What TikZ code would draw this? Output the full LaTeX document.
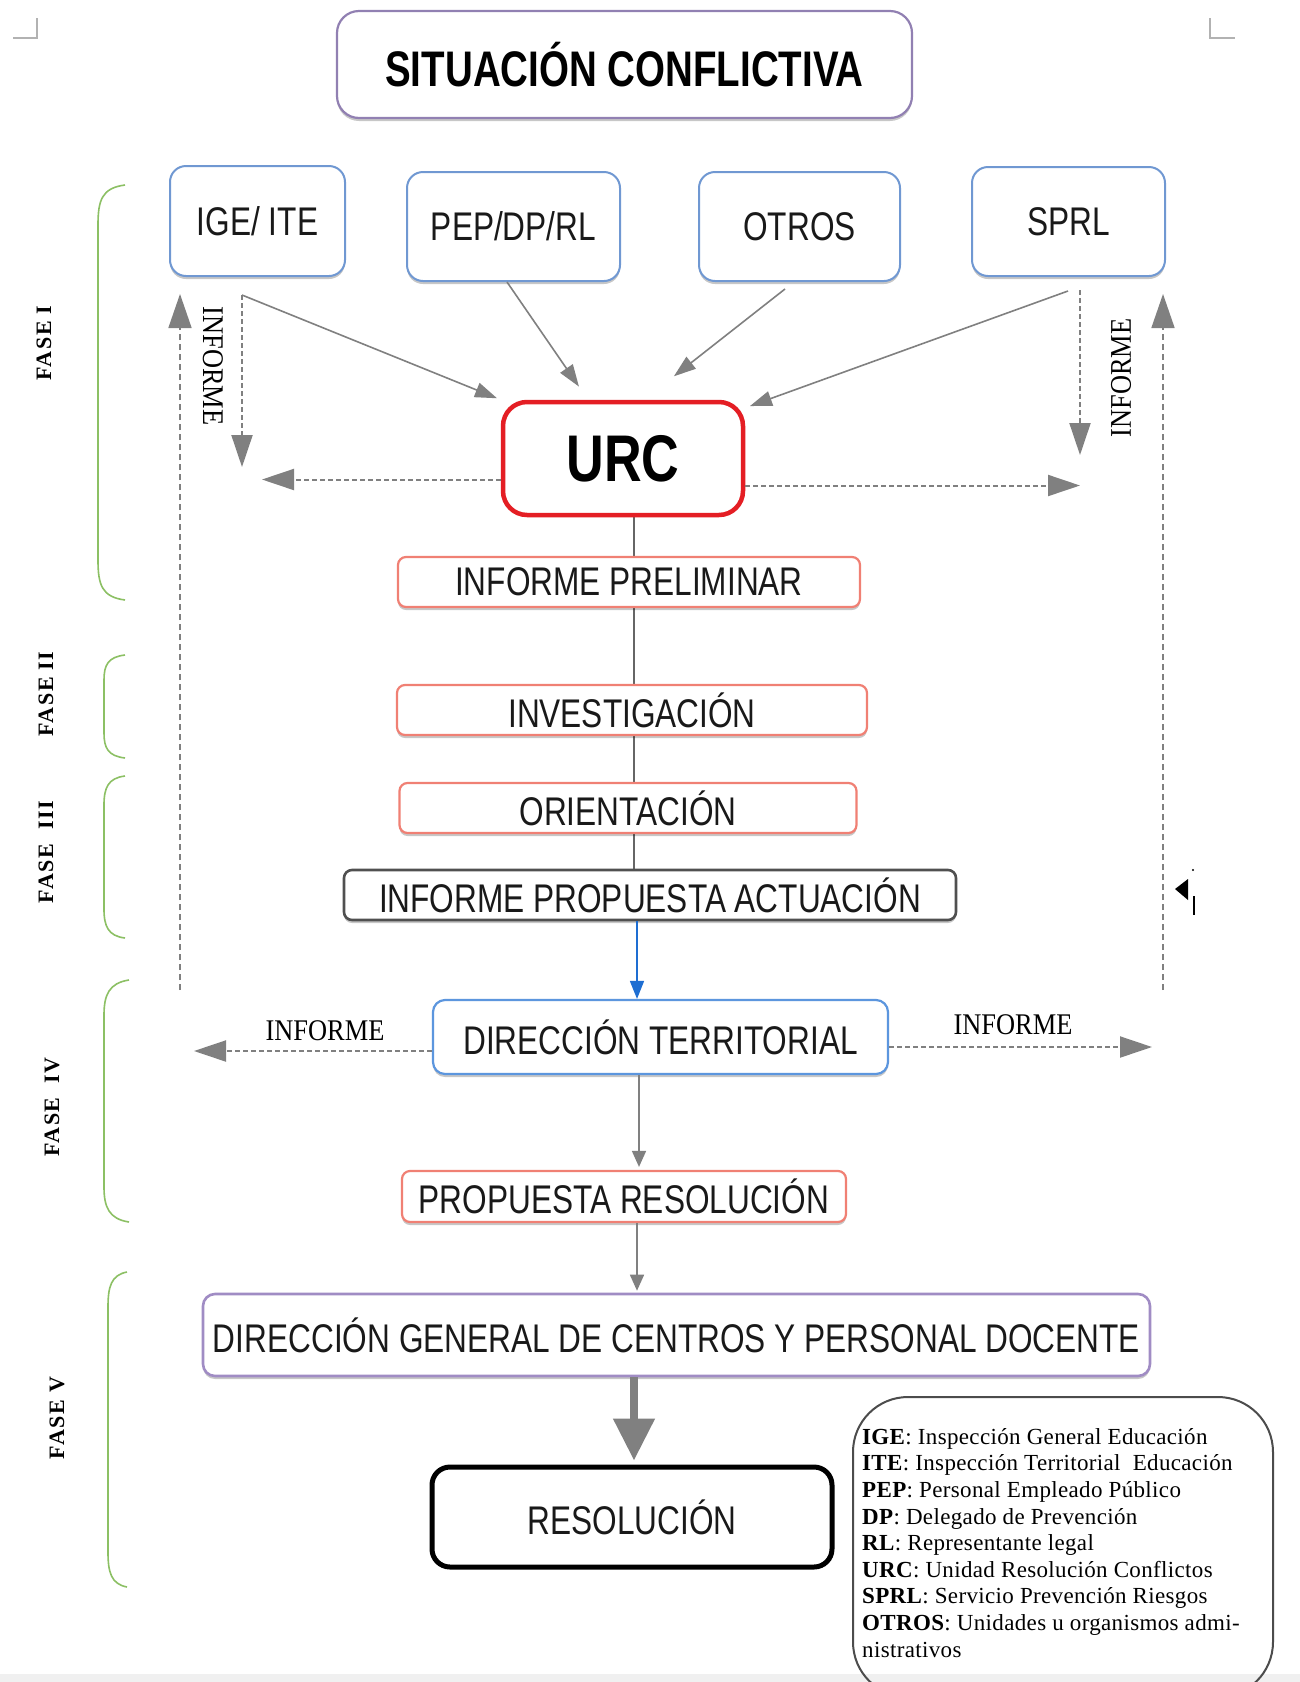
\documentclass[tikz,border=0pt]{standalone}
\usepackage{fontspec}
\setmainfont{Liberation Serif}
\newfontfamily\nar{Liberation Sans}[FakeStretch=0.79]
\newfontfamily\narT{Liberation Sans}[FakeStretch=0.77]
\newfontfamily\fasef{Liberation Serif}[LetterSpace=7]
\newfontfamily\inff{Liberation Serif}[FakeStretch=0.88]
\newfontfamily\legf{Liberation Serif}[LetterSpace=1.5]
\usetikzlibrary{arrows.meta,shadows,backgrounds}
\definecolor{cTitle}{RGB}{145,128,178}
\definecolor{cBlue}{RGB}{112,152,210}
\definecolor{cRed}{RGB}{228,30,36}
\definecolor{cSal}{RGB}{240,128,116}
\definecolor{cDark}{RGB}{80,80,80}
\definecolor{cDT}{RGB}{92,150,222}
\definecolor{cDG}{RGB}{160,140,196}
\definecolor{cGreen}{RGB}{140,192,100}
\definecolor{cGray}{RGB}{128,128,128}
\definecolor{cArrBlue}{RGB}{30,110,210}
\begin{document}
\begin{tikzpicture}[x=1pt,y=-1pt,
  every node/.style={inner sep=0pt},
  sh/.style={drop shadow={shadow xshift=0pt,shadow yshift=-3pt,opacity=0.22,fill=black}},
  boxtxt/.style={font=\nar\fontsize{40}{42}\selectfont, text=black!90},
  titlebox/.style={rectangle, font=\narT\bfseries\fontsize{50}{52}\selectfont, draw=cTitle, line width=2.2pt, rounded corners=22pt, fill=white, sh},
  topbox/.style={boxtxt, rectangle, draw=cBlue, line width=2pt, rounded corners=16pt, fill=white, sh},
  urcbox/.style={rectangle, font=\nar\bfseries\fontsize{66}{68}\selectfont, draw=cRed, line width=4.5pt, rounded corners=24pt, fill=white},
  salbox/.style={boxtxt, rectangle, draw=cSal, line width=2.2pt, rounded corners=8pt, fill=white, sh, minimum height=50pt},
  graybox/.style={boxtxt, rectangle, draw=cDark, line width=2.6pt, rounded corners=8pt, fill=white, sh},
  dtbox/.style={boxtxt, rectangle, draw=cDT, line width=2.2pt, rounded corners=12pt, fill=white, sh},
  dgbox/.style={boxtxt, rectangle, draw=cDG, line width=2.6pt, rounded corners=12pt, fill=white, sh},
  resbox/.style={boxtxt, rectangle, draw=black, line width=5pt, rounded corners=18pt, fill=white},
  legbox/.style={rectangle, draw=black!70, line width=2pt, rounded corners=55pt},
  fase/.style={font=\fasef\bfseries\fontsize{22}{24}\selectfont, rotate=90},
  inf/.style={font=\inff\fontsize{30}{32}\selectfont},
  brace/.style={draw=cGreen, line width=1.6pt},
  gar/.style={draw=cGray, line width=1.6pt, -{Triangle[length=22pt,width=15pt]}},
  dar/.style={draw=cGray, line width=2pt, dash pattern=on 5pt off 3pt, -{Triangle[length=32pt,width=21pt]}},
  ldash/.style={draw=cGray, line width=1.6pt, dash pattern=on 6pt off 4pt, -{Triangle[length=34pt,width=23pt]}},
  sarr/.style={draw=cGray, line width=1.6pt, -{Triangle[length=16pt,width=14pt]}}
]
\useasboundingbox (0,0) rectangle (1300,1682);
\begin{scope}[on background layer]
  \fill[white] (0,0) rectangle (1300,1682);
  \fill[black!6] (0,1674) rectangle (1300,1682);
\end{scope}

% corner marks
\draw[black!30, line width=1.5pt] (13,38) -- (37,38) -- (37,18);
\draw[black!30, line width=1.5pt] (1210,18) -- (1210,38) -- (1235,38);

% title
\node[titlebox, minimum width=575pt, minimum height=107pt] (title) at (624.5,64.5) {SITUACIÓN CONFLICTIVA};

% top boxes
\node[topbox, minimum width=175pt, minimum height=110pt] (ige) at (257.5,221) {IGE/ ITE};
\node[topbox, minimum width=213pt, minimum height=109pt] (pep) at (513.5,226.5) {PEP/DP/RL};
\node[topbox, minimum width=201pt, minimum height=109pt] (otros) at (799.5,226.5) {OTROS};
\node[topbox, minimum width=193pt, minimum height=109pt] (sprl) at (1068.5,221.5) {SPRL};

% URC
\node[urcbox, minimum width=240pt, minimum height=113pt] (urc) at (623,458.5) {URC};

% middle boxes
\node[salbox, minimum width=462pt] (ip) at (629,582) {INFORME PRELIMINAR};
\node[salbox, minimum width=470pt] (inv) at (632,710) {INVESTIGACIÓN};
\node[salbox, minimum width=457pt] (ori) at (628,808) {ORIENTACIÓN};
\node[graybox, minimum width=612pt, minimum height=50pt] (ipa) at (650,895) {INFORME PROPUESTA ACTUACIÓN};
\node[dtbox, minimum width=455pt, minimum height=74pt] (dt) at (660.5,1037) {DIRECCIÓN TERRITORIAL};
\node[salbox, minimum width=444pt, minimum height=51pt] (pr) at (624,1196.5) {PROPUESTA RESOLUCIÓN};
\node[dgbox, minimum width=947pt, minimum height=82pt] (dg) at (676.5,1335) {DIRECCIÓN GENERAL DE CENTROS Y PERSONAL DOCENTE};
\node[resbox, minimum width=400pt, minimum height=100pt] (res) at (632,1517) {RESOLUCIÓN};

% legend
\node[legbox, minimum width=420pt, minimum height=300pt] (leg) at (1063,1547) {};
\node[anchor=north west, align=left, font=\legf\fontsize{23}{26.6}\selectfont] (legtext) at (862,1428)
{\textbf{IGE}: Inspección General Educación\\
\textbf{ITE}: Inspección Territorial\ \ Educación\\
\textbf{PEP}: Personal Empleado Público\\
\textbf{DP}: Delegado de Prevención\\
\textbf{RL}: Representante legal\\
\textbf{URC}: Unidad Resolución Conflictos\\
\textbf{SPRL}: Servicio Prevención Riesgos\\
\textbf{OTROS}: Unidades u organismos admi-\\
nistrativos};

% phase braces
\draw[brace] (125,185) .. controls (102,188) and (98,200) .. (98,225) -- (98,560) .. controls (98,585) and (102,597) .. (125,600);
\draw[brace] (125,655) .. controls (108,657) and (104,665) .. (104,680) -- (104,733) .. controls (104,748) and (108,756) .. (125,758);
\draw[brace] (125,776) .. controls (108,778) and (104,788) .. (104,805) -- (104,909) .. controls (104,926) and (108,936) .. (125,938);
\draw[brace] (129,980) .. controls (109,983) and (104,995) .. (104,1015) -- (104,1187) .. controls (104,1207) and (109,1219) .. (129,1222);
\draw[brace] (127,1272) .. controls (111,1275) and (108,1287) .. (108,1307) -- (108,1552) .. controls (108,1572) and (111,1584) .. (127,1587);

\node[fase] (f1) at (44,343) {FASE I};
\node[fase] (f2) at (46,694) {FASE II};
\node[fase] (f3) at (46,852) {FASE\ \ III};
\node[fase] (f4) at (52,1107) {FASE\ \ IV};
\node[fase] (f5) at (57,1418) {FASE V};

% spine (behind boxes)
\coordinate (sp1) at (634,0);
\coordinate (sp2) at (637,0);
\coordinate (sp3) at (639,0);
\coordinate (sp4) at (637,0);
\coordinate (sp5) at (634,0);
\begin{scope}[on background layer]
  \draw[line width=1.2pt, black!60] (urc.south -| sp1) -- (ipa.north -| sp1);
\end{scope}

% arrows into URC
\coordinate (igeOut) at (242,295);
\coordinate (pepOut) at (507,282);
\coordinate (otrosOut) at (785,289);
\coordinate (sprlOut) at (1068,291);
\draw[gar, shorten >=4pt] (igeOut) -- (urc.north west);
\draw[gar, shorten >=16pt] (pepOut) -- ([xshift=-35pt]urc.north);
\draw[gar, shorten >=38pt] (otrosOut) -- ([xshift=21pt]urc.north);
\draw[gar, shorten >=5pt] (sprlOut) -- ([yshift=-8pt]urc.north east);

% informe dashed arrows near URC
\coordinate (lDn) at (242,467);
\coordinate (rTop) at (1080,290);
\coordinate (rDn) at (1080,455);
\coordinate (lH) at (262,479.5);
\coordinate (rH) at (1080,485.5);
\draw[dar] (igeOut) -- (lDn);
\draw[dar] (rTop) -- (rDn);
\draw[dar] ([yshift=-21pt]urc.west) -- (lH);
\draw[dar] ([yshift=-27pt]urc.east) -- (rH);
\node[inf, rotate=-90] (infL) at (213,366) {INFORME};
\node[inf, rotate=90] (infR) at (1121,378) {INFORME};

% long dashed returns
\coordinate (lUp) at (180,990);
\coordinate (rUp) at (1163,990);
\draw[ldash, shorten >=17pt] (lUp) -- (lUp |- ige.south);
\draw[ldash, shorten >=17pt] (rUp) -- (rUp |- sprl.south);

% small mark
\fill (1175,889) -- (1188,879) -- (1188,900) -- cycle;
\draw[line width=1.6pt] (1194,896) -- (1194,915);
\fill (1193,870) circle (1.2pt);

% lower flow
\draw[draw=cArrBlue, line width=1.6pt, -{Triangle[length=18pt,width=14pt]}] (ipa.south -| sp2) -- (dt.north -| sp2);
\draw[sarr, shorten >=3pt] (dt.south -| sp3) -- (pr.north -| sp3);
\draw[sarr, shorten >=2pt] (pr.south -| sp4) -- (dg.north -| sp4);
\draw[draw=cGray, line width=8pt, -{Triangle[length=42pt,width=40pt]}, shorten >=4pt] (dg.south -| sp5) -- (res.north -| sp5);

% DT informe arrows
\coordinate (dtL) at (194,1051);
\coordinate (dtR) at (1152,1047);
\draw[dar] ([yshift=-14pt]dt.west) -- (dtL);
\draw[dar] ([yshift=-10pt]dt.east) -- (dtR);
\node[inf] (infDL) at (325,1031) {INFORME};
\node[inf] (infDR) at (1013,1025) {INFORME};
\end{tikzpicture}
\end{document}
